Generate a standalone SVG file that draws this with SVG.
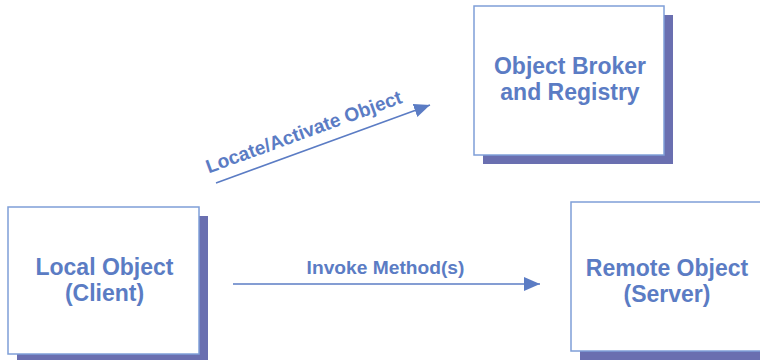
<svg xmlns="http://www.w3.org/2000/svg" width="760" height="360" viewBox="0 0 760 360">
<style>
.shadow{fill:#6a6fb0;}
.box{fill:#ffffff;stroke:#7f9fd8;stroke-width:1.5;}
.lbl{font-family:"Liberation Sans",Arial,sans-serif;font-weight:bold;fill:#5b7cc4;text-anchor:middle;}
.big{font-size:23px;}
.small{font-size:19.2px;}
.edge{stroke:#5b7cc4;stroke-width:1.5;fill:none;marker-end:url(#ah);}
</style>
<defs>
<marker id="ah" markerUnits="userSpaceOnUse" markerWidth="17" markerHeight="15" refX="16" refY="7" orient="auto">
<path d="M0,0 L16,7 L0,14 z" fill="#5b7cc4"/>
</marker>
</defs>
<rect width="760" height="360" fill="#ffffff"/>
<g id="broker">
<rect class="shadow" x="483" y="15" width="190" height="149"/>
<rect class="box" x="474" y="6" width="190" height="149"/>
<text class="lbl big" x="570" y="74">Object Broker</text>
<text class="lbl big" x="570" y="100">and Registry</text>
</g>
<g id="local">
<rect class="shadow" x="17" y="216" width="191" height="147"/>
<rect class="box" x="8" y="207" width="191" height="147"/>
<text class="lbl big" x="104.5" y="275">Local Object</text>
<text class="lbl big" x="104.5" y="301">(Client)</text>
</g>
<g id="remote">
<rect class="shadow" x="580" y="211" width="191" height="149"/>
<rect class="box" x="571" y="202" width="191" height="149"/>
<text class="lbl big" x="667" y="276">Remote Object</text>
<text class="lbl big" x="667" y="302">(Server)</text>
</g>
<g id="connectors">
<line class="edge" x1="233" y1="284" x2="540" y2="284"/>
<text class="lbl small" x="385.5" y="274">Invoke Method(s)</text>
<line class="edge" x1="216" y1="183" x2="430" y2="105"/>
<text class="lbl small" transform="translate(306,138) rotate(-20)" x="0" y="0">Locate/Activate Object</text>
</g>
</svg>
